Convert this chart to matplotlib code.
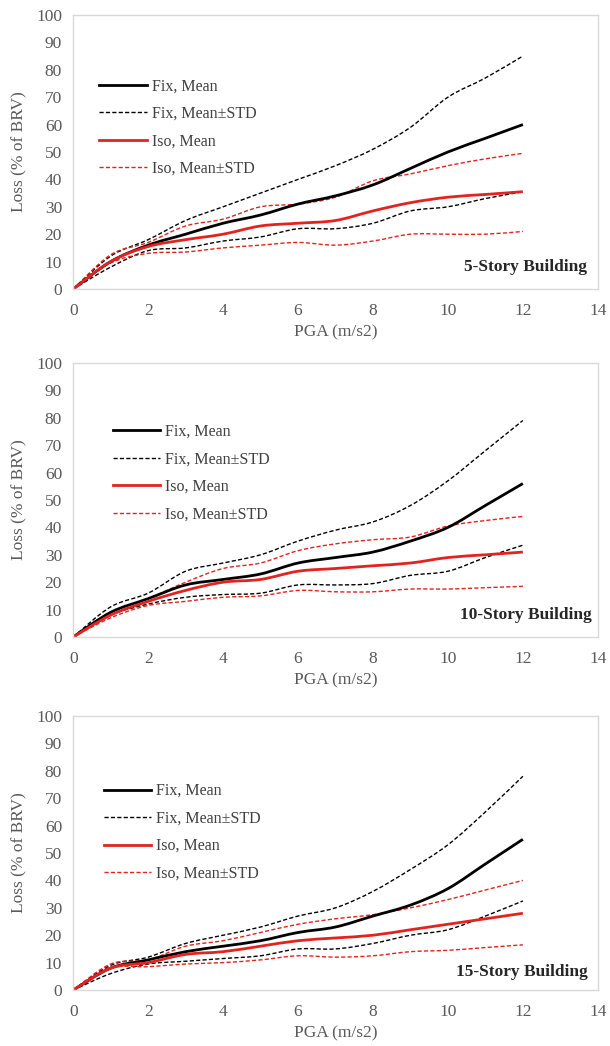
#!/usr/bin/env python
# loss curves vs PGA for 5/10/15 story buildings, fixed vs isolated base
import numpy as np
import matplotlib
matplotlib.use('Agg')
import matplotlib.pyplot as plt
from matplotlib.path import Path
from matplotlib.patches import PathPatch
from matplotlib.lines import Line2D

pga = [0, 1, 2, 3, 4, 5, 6, 7, 8, 9, 10, 11, 12]

# 5-story
fix_mean_5 = [0, 10, 16, 20, 24, 27, 31, 34, 38, 44, 50, 55, 60]
fix_up_5 = [0, 12, 18, 25, 30, 35, 40, 45, 51, 59, 70, 77, 85]
fix_lo_5 = [0, 8, 14, 15, 17.5, 19, 22, 22, 24, 28.5, 30, 33, 35.5]
iso_mean_5 = [0, 10, 15.5, 18, 20, 23, 24, 25, 28.5, 31.5, 33.5, 34.5, 35.5]
iso_up_5 = [0, 12.5, 17, 23, 25.5, 30, 31, 33.5, 39.5, 42, 45, 47.5, 49.5]
iso_lo_5 = [0, 9.5, 13, 13.5, 15, 16, 17, 16, 17.5, 20, 20, 20, 21]

# 10-story
fix_mean_10 = [0, 9, 14, 19, 21, 23, 27, 29, 31, 35, 40, 48, 56]
fix_up_10 = [0, 11, 16, 24, 27, 30, 35, 39, 42, 48, 57, 68, 79]
fix_lo_10 = [0, 8, 12, 14.5, 15.5, 16, 19, 19, 19.5, 22.5, 24, 29, 33.5]
iso_mean_10 = [0, 8, 13, 17, 20, 21, 24, 25, 26, 27, 29, 30, 31]
iso_up_10 = [0, 9, 14, 20, 25, 27, 31.5, 34, 35.5, 36.5, 40.5, 42.5, 44]
iso_lo_10 = [0, 7, 11.5, 13, 14.5, 15, 17, 16.5, 16.5, 17.5, 17.5, 18, 18.5]

# 15-story
fix_mean_15 = [0, 8, 11, 14, 16, 18, 21, 23, 27, 31, 37, 46, 55]
fix_up_15 = [0, 9, 12, 17, 20, 23, 27, 30, 36, 44, 53, 65, 78]
fix_lo_15 = [0, 6, 9.5, 10.5, 11.5, 12.5, 15, 15, 17, 20, 22, 27, 32.5]
iso_mean_15 = [0, 8, 10, 13, 14, 16, 18, 19, 20, 22, 24, 26, 28]
iso_up_15 = [0, 9.5, 11, 16, 18, 21, 24, 26, 27.5, 30, 33, 36.5, 40]
iso_lo_15 = [0, 8, 8.5, 9.5, 10, 11, 12.5, 12, 12.5, 14, 14.5, 15.5, 16.5]

panels = [
    ('5-Story Building', fix_mean_5, fix_up_5, fix_lo_5, iso_mean_5, iso_up_5, iso_lo_5),
    ('10-Story Building', fix_mean_10, fix_up_10, fix_lo_10, iso_mean_10, iso_up_10, iso_lo_10),
    ('15-Story Building', fix_mean_15, fix_up_15, fix_lo_15, iso_mean_15, iso_up_15, iso_lo_15),
]

RED = '#e3231f'
GREY = '#595959'
DASH = (0, (3.0, 1.6))

plt.rcParams['font.family'] = ['Liberation Serif', 'DejaVu Serif']


def smooth_path(x, y):
    # excel-like smoothed line as cubic bezier segments
    x = np.asarray(x, float)
    y = np.asarray(y, float)
    pts = np.column_stack([x, y])
    n = len(pts)
    verts = [pts[0]]
    codes = [Path.MOVETO]
    for i in range(n - 1):
        p0 = pts[i - 1] if i > 0 else pts[i]
        p1 = pts[i]
        p2 = pts[i + 1]
        p3 = pts[i + 2] if i + 2 < n else pts[i + 1]
        c1 = p1 + (p2 - p0) / 6.0
        c2 = p2 - (p3 - p1) / 6.0
        verts += [c1, c2, p2]
        codes += [Path.CURVE4] * 3
    return Path(verts, codes)


def add_curve(ax, x, y, color, lw, ls):
    patch = PathPatch(smooth_path(x, y), facecolor='none', edgecolor=color,
                      linewidth=lw, linestyle=ls, capstyle='butt')
    ax.add_patch(patch)


fig = plt.figure(figsize=(6.10, 10.46), dpi=100)
tops = [0.9857, 0.653, 0.3155]
h = 0.262
# legend anchor (x in data units, y in axes fraction) and label position per panel
leg_x = [0.70, 1.05, 0.81]
leg_y = [0.769, 0.778, 0.755]
lab_pos = [(13.72, 8.1), (13.84, 8.2), (13.72, 6.6)]

for k, (title, fm, fu, fl, im, iu, il) in enumerate(panels):
    ax = fig.add_axes([0.120, tops[k] - h, 0.860, h])
    add_curve(ax, pga, fu, 'black', 1.0, DASH)
    add_curve(ax, pga, fl, 'black', 1.0, DASH)
    add_curve(ax, pga, iu, RED, 1.0, DASH)
    add_curve(ax, pga, il, RED, 1.0, DASH)
    add_curve(ax, pga, fm, 'black', 2.0, '-')
    add_curve(ax, pga, im, RED, 2.0, '-')

    ax.set_xlim(0, 14)
    ax.set_ylim(0, 100)
    ax.set_xticks(np.arange(0, 15, 2))
    ax.set_yticks(np.arange(0, 101, 10))
    ax.tick_params(length=0, labelsize=12.5, labelcolor=GREY)
    ax.tick_params(axis='x', pad=10)
    ax.tick_params(axis='y', pad=8)
    for s in ax.spines.values():
        s.set_color('#d9d9d9')
        s.set_linewidth(1.0)
    ax.set_xlabel('PGA (m/s2)', fontsize=12.5, color=GREY, labelpad=4)
    ax.set_ylabel('Loss (% of BRV)', fontsize=12.5, color=GREY, labelpad=6)

    handles = [
        Line2D([], [], color='black', lw=2.0),
        Line2D([], [], color='black', lw=1.0, linestyle=DASH),
        Line2D([], [], color=RED, lw=2.0),
        Line2D([], [], color=RED, lw=1.0, linestyle=DASH),
    ]
    labels = ['Fix, Mean', 'Fix, Mean\u00b1STD', 'Iso, Mean', 'Iso, Mean\u00b1STD']
    ax.legend(handles, labels, loc='upper left', bbox_to_anchor=(leg_x[k] / 14, leg_y[k]),
              frameon=False, fontsize=11.5, handlelength=3.0, handletextpad=0.3,
              labelspacing=0.72, borderpad=0, borderaxespad=0, labelcolor='#404040')

    ax.text(lab_pos[k][0], lab_pos[k][1], title, ha='right', va='center', fontsize=12.5,
            fontweight='bold', color='#262626')

plt.savefig('out.png', dpi=100)
